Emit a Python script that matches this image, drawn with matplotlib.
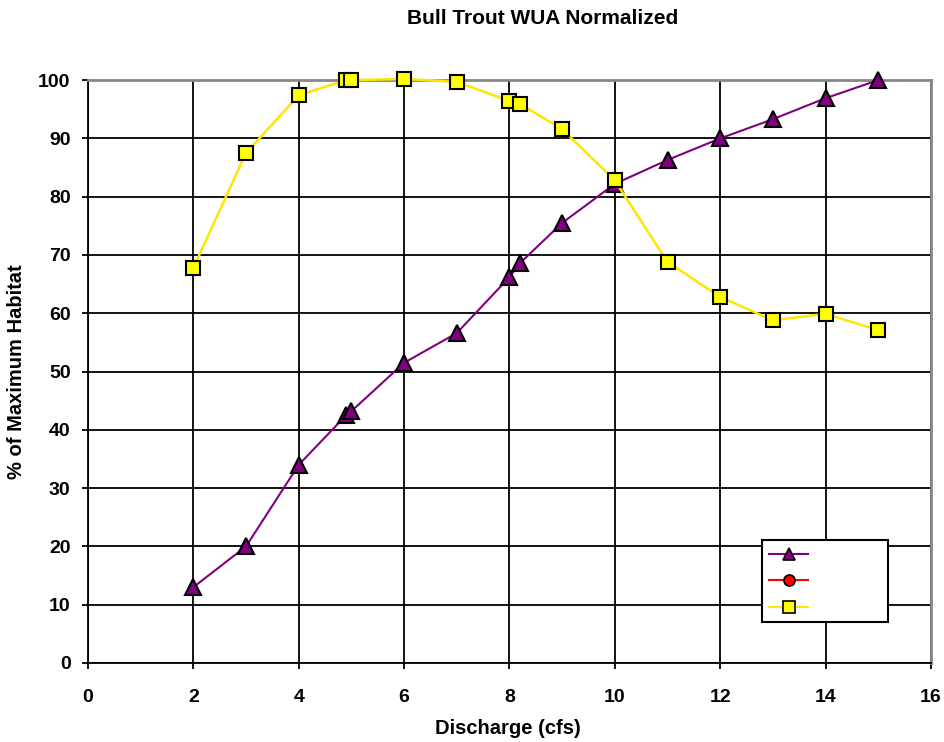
import matplotlib
matplotlib.use("Agg")
import matplotlib.pyplot as plt
from matplotlib.lines import Line2D

plt.rcParams['font.family'] = ['Liberation Sans', 'DejaVu Sans']

# Discharge (cfs) and normalized WUA (% of maximum habitat)
discharge = [2, 3, 4, 4.9, 5, 6, 7, 8, 8.2, 9, 10, 11, 12, 13, 14, 15]
series_a = [13.0, 20.0, 34.0, 42.5, 43.2, 51.5, 56.6, 66.2, 68.6, 75.5,
            82.2, 86.3, 90.0, 93.3, 96.9, 100.0]
series_b = []
series_c = [67.8, 87.5, 97.4, 100.0, 100.0, 100.2, 99.7, 96.4, 95.9, 91.6,
            82.8, 68.8, 62.8, 58.8, 59.9, 57.1]

x_ticks = list(range(0, 17, 2))
y_ticks = list(range(0, 101, 10))

fig = plt.figure(figsize=(9.45, 7.42), dpi=100)
ax = fig.add_axes([0.0931, 0.1065, 0.892, 0.7855])

ax.set_xlim(0, 16)
ax.set_ylim(0, 100)
ax.set_xticks(x_ticks)
ax.set_yticks(y_ticks)
ax.tick_params(axis='both', labelsize=14, width=1.3, length=4.5, direction='out')
ax.tick_params(axis='x', pad=14)
ax.tick_params(axis='y', pad=8)
for lbl in ax.get_xticklabels() + ax.get_yticklabels():
    lbl.set_fontweight('bold')

ax.grid(True, color='black', linewidth=1.3)
ax.set_axisbelow(True)

for side in ('left', 'bottom'):
    ax.spines[side].set_color('black')
    ax.spines[side].set_linewidth(1.3)
for side in ('top', 'right'):
    ax.spines[side].set_color('#888888')
    ax.spines[side].set_linewidth(2.0)

ax.plot(discharge, series_a, color='#800080', linewidth=1.5, marker='^',
        markersize=12, markerfacecolor='#800080', markeredgecolor='black',
        markeredgewidth=1.5, zorder=3, clip_on=False)
ax.plot(discharge[:len(series_b)], series_b, color='red', marker='o')
ax.plot(discharge, series_c, color='#FFE600', linewidth=1.8, marker='s',
        markersize=10, markerfacecolor='#FFFF00', markeredgecolor='black',
        markeredgewidth=1.5, zorder=4, clip_on=False)

handles = [
    Line2D([], [], color='#800080', linewidth=1.5, marker='^', markersize=9,
           markerfacecolor='#800080', markeredgecolor='black', markeredgewidth=1.2),
    Line2D([], [], color='red', linewidth=1.5, marker='o', markersize=8,
           markerfacecolor='red', markeredgecolor='black', markeredgewidth=1.2),
    Line2D([], [], color='#FFE600', linewidth=1.5, marker='s', markersize=8,
           markerfacecolor='#FFFF00', markeredgecolor='black', markeredgewidth=1.2),
]
leg = ax.legend(handles, ['', '', ''], loc='lower left',
                bbox_to_anchor=(0.7995, 0.0703, 0.1495, 0.144), mode='expand',
                fancybox=False, framealpha=1, edgecolor='black',
                handlelength=2.8, borderpad=0.53, labelspacing=0.9,
                borderaxespad=0)
leg.get_frame().set_linewidth(1.5)
leg.set_zorder(5)

fig.text(0.5375, 1 - 729 / 742, 'Discharge (cfs)', fontsize=14.5,
         fontweight='bold', ha='center', va='center')
fig.text(17 / 945, 1 - 372 / 742, '% of Maximum Habitat', fontsize=14.5,
         fontweight='bold', ha='center', va='center', rotation=90)
fig.text(543 / 945, 1 - 18 / 742, 'Bull Trout WUA Normalized', fontsize=15,
         fontweight='bold', ha='center', va='center')

fig.savefig('out.png', dpi=100)
